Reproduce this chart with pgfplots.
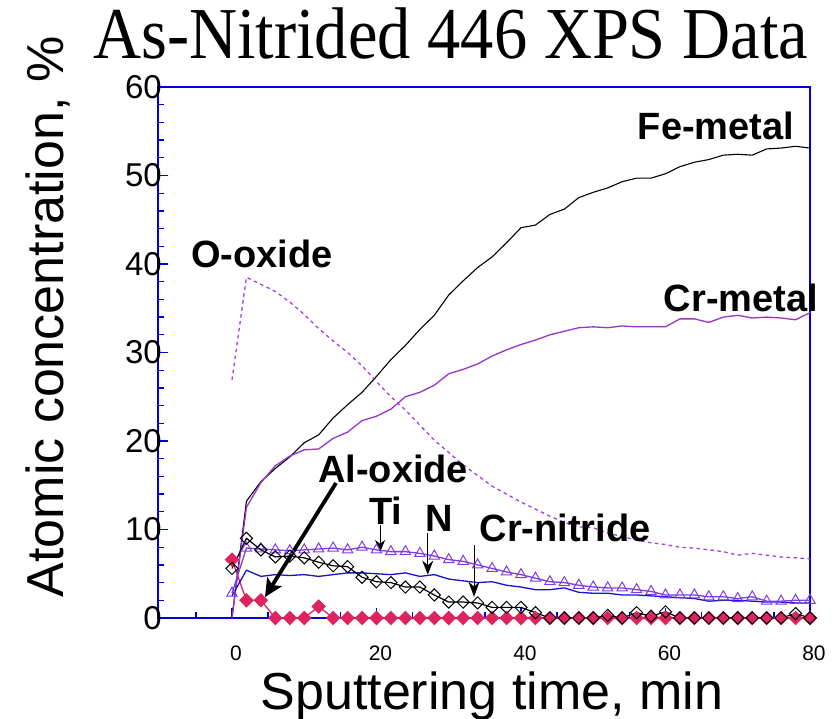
\documentclass[border=0pt]{standalone}
\usepackage{pgfplots}
\pgfplotsset{compat=1.18}
\usepackage{pgfplotstable}
\usepackage{fontspec}
\setmainfont{Liberation Sans}
\newfontfamily\timesfont{Liberation Serif}
\usetikzlibrary{arrows.meta}
\definecolor{frameblue}{RGB}{0,0,220}
\definecolor{crmetal}{RGB}{153,51,204}
\definecolor{ooxide}{RGB}{160,64,232}
\definecolor{ticol}{RGB}{125,60,228}
\definecolor{nblue}{RGB}{20,20,210}
\definecolor{aloxide}{RGB}{222,36,94}

\pgfplotstableread{
x y
0 0
2 13.2
4 15.4
6 16.9
8 18.2
10 19.8
12 20.7
14 22.6
16 24.1
18 25.5
20 27.3
22 29.2
24 30.8
26 32.6
28 34.2
30 36.5
32 38.1
34 39.6
36 40.8
38 42.4
40 44.1
42 44.4
44 45.6
46 46.2
48 47.5
50 48.1
52 48.6
54 49.3
56 49.7
58 49.7
60 50.2
62 51.0
64 51.5
66 51.8
68 52.3
70 52.4
72 52.3
74 53.0
76 53.1
78 53.3
80 53.1
}\femetal

\pgfplotstableread{
x y
0 0
2 12.5
4 15.3
6 17.2
8 18.3
10 19.0
12 19.1
14 20.3
16 21.0
18 22.3
20 22.8
22 23.6
24 25.0
26 25.5
28 26.3
30 27.6
32 28.1
34 28.7
36 29.6
38 30.3
40 30.9
42 31.4
44 32.0
46 32.4
48 32.8
50 32.9
52 32.8
54 33.0
56 32.9
58 32.9
60 32.9
62 33.8
64 33.8
66 33.4
68 34.0
70 34.2
72 33.9
74 34.0
76 33.9
78 33.7
80 34.5
}\crmetal

\pgfplotstableread{
x y
0 26.9
2 38.5
4 37.7
6 36.9
8 35.7
10 34.3
12 32.7
14 31.3
16 30.0
18 28.5
20 26.7
22 25.0
24 23.5
26 21.8
28 20.1
30 18.7
32 17.3
34 16.1
36 14.9
38 14.0
40 13.1
42 12.3
44 11.5
46 10.8
48 10.3
50 10.2
52 9.6
54 9.2
56 8.8
58 8.5
60 8.3
62 8.0
64 7.9
66 7.7
68 7.5
70 7.1
72 7.3
74 7.1
76 6.9
78 6.8
80 6.7
}\ooxide

\pgfplotstableread{
x y
0 2.8
2 7.9
4 7.8
6 7.7
8 7.6
10 7.7
12 7.8
14 7.9
16 7.7
18 8.0
20 7.7
22 7.5
24 7.5
26 7.3
28 7.0
30 6.6
32 6.4
34 6.0
36 5.6
38 5.2
40 4.9
42 4.5
44 4.1
46 4.0
48 3.7
50 3.5
52 3.4
54 3.4
56 3.2
58 3.0
60 2.6
62 2.6
64 2.6
66 2.4
68 2.4
70 2.2
72 2.4
74 1.9
76 1.9
78 2.0
80 2.0
}\ti

\pgfplotstableread{
x y
0 2.5
2 5.4
4 4.7
6 4.9
8 4.8
10 4.9
12 4.7
14 4.9
16 5.1
18 5.1
20 5.0
22 4.9
24 5.1
26 4.7
28 4.9
30 4.4
32 4.2
34 4.0
36 4.1
38 3.7
40 3.5
42 3.2
44 3.2
46 3.4
48 2.9
50 2.8
52 2.8
54 2.6
56 2.6
58 2.5
60 2.4
62 2.3
64 2.2
66 1.9
68 2.0
70 2.0
72 1.9
74 1.8
76 1.8
78 1.7
80 1.7
}\nitro

\pgfplotstableread{
x y
0 5.6
2 9.0
4 7.7
6 6.9
8 7.0
10 6.8
12 6.3
14 5.9
16 5.8
18 4.6
20 4.1
22 4.0
24 3.5
26 3.5
28 2.6
30 1.8
32 1.8
34 1.7
36 1.2
38 1.2
40 1.2
42 0.6
44 0
46 0
48 0
50 0
52 0.3
54 0
56 0.6
58 0.2
60 0.7
62 0
64 0
66 0
68 0
70 0
72 0
74 0
76 0
78 0.5
80 0
}\crnitride

\pgfplotstableread{
x y
0 6.6
2 2.0
4 2.0
6 0
8 0
10 0
12 1.3
14 0
16 0
18 0
20 0
22 0
24 0
26 0
28 0
30 0
32 0
34 0
36 0
38 0
40 0
42 0
44 0
46 0
48 0
50 0
52 0
54 0
56 0
58 0
60 0
62 0
64 0
66 0
68 0
70 0
72 0
74 0
76 0
78 0
80 0
}\aloxide

\begin{document}
\begin{tikzpicture}
\useasboundingbox (-158bp,-101bp) rectangle (681bp,618bp);
\begin{axis}[
  at={(0,0)}, anchor=south west,
  scale only axis, width=652bp, height=531bp,
  xmin=-10.24, xmax=80, ymin=0, ymax=60,
  clip=false,
  axis line style={frameblue, line width=1.6bp},
  xtick={0,20,40,60,80},
  minor xtick={-10,-5,5,10,15,25,30,35,45,50,55,65,70,75},
  ytick={0,10,20,30,40,50,60},
  minor y tick num=4,
  tick style={frameblue, line width=1.3bp},
  major tick length=10bp, minor tick length=6.5bp,
  xtick pos=bottom, ytick pos=left,
  tick align=inside,
  /pgf/number format/assume math mode=true,
  xticklabel style={font=\fontsize{21bp}{24bp}\selectfont, anchor=base, yshift=-42bp, xshift=4bp},
  yticklabel style={font=\fontsize{33bp}{36bp}\selectfont, anchor=east, inner sep=0pt, xshift=4bp},
  xlabel={Sputtering time, min},
  xlabel style={font=\fontsize{52bp}{56bp}\selectfont, at={(axis description cs:0.512,-0.1714)}, anchor=base},
  ylabel={Atomic concentration, \%},
  ylabel style={font=\fontsize{52bp}{56bp}\selectfont, at={(axis description cs:-0.168,0.567)}, anchor=center},
  title={\scalebox{1}[1.1]{As-Nitrided 446 XPS Data}},
  title style={font=\timesfont\fontsize{66.5bp}{70bp}\selectfont, at={(axis description cs:0.449,1.043)}, anchor=base},
]
\addplot[black, line width=1.1bp] table[x=x,y=y] {\femetal};
\addplot[crmetal, line width=1.3bp] table[x=x,y=y] {\crmetal};
\addplot[ooxide, line width=1.3bp, dash pattern=on 3.5bp off 3.5bp] table[x=x,y=y] {\ooxide};
\addplot[aloxide, line width=1.3bp, mark=square*, mark size=4.5bp, mark options={rotate=45, solid}] table[x=x,y=y] {\aloxide};
\addplot[nblue, line width=1.3bp] table[x=x,y=y] {\nitro};
\addplot[ticol, line width=1.3bp, mark=triangle, mark size=6bp, mark options={solid, line width=1bp}] table[x=x,y=y] {\ti};
\addplot[black, line width=1.2bp, mark=square, mark size=4.3bp, mark options={rotate=45, line width=1bp}] table[x=x,y=y] {\crnitride};

\node[inner sep=0pt, font=\bfseries\fontsize{38bp}{40bp}\selectfont] at (axis cs:67,55.6) {Fe-metal};
\node[inner sep=0pt, font=\bfseries\fontsize{38bp}{40bp}\selectfont] at (axis cs:70.45,36.16) {Cr-metal};
\node[inner sep=0pt, font=\bfseries\fontsize{38bp}{40bp}\selectfont] at (axis cs:4.15,41.1) {O-oxide};
\node[inner sep=0pt, font=\bfseries\fontsize{38bp}{40bp}\selectfont] at (axis cs:22.3,16.8) {Al-oxide};
\node[inner sep=0pt, font=\bfseries\fontsize{38bp}{40bp}\selectfont] at (axis cs:21.3,12.1) {Ti};
\node[inner sep=0pt, font=\bfseries\fontsize{38bp}{40bp}\selectfont] at (axis cs:28.65,11.2) {N};
\node[inner sep=0pt, font=\bfseries\fontsize{38bp}{40bp}\selectfont] at (axis cs:46.1,10.2) {Cr-nitride};

\draw[line width=3.8bp, -{Stealth[length=18bp,width=17bp,inset=4bp]}] (axis cs:14.4,15.25) -- (axis cs:4.57,2.37);
\draw[line width=0.9bp, -{Stealth[length=12bp,width=10bp]}] (axis cs:20.5,10.5) -- (axis cs:20.5,7.46);
\draw[line width=0.9bp, -{Stealth[length=14bp,width=11bp]}] (axis cs:27.1,9.6) -- (axis cs:27.1,4.9);
\draw[line width=0.9bp, -{Stealth[length=15bp,width=11bp]}] (axis cs:33.5,8.25) -- (axis cs:33.5,2.4);
\end{axis}
\end{tikzpicture}
\end{document}
